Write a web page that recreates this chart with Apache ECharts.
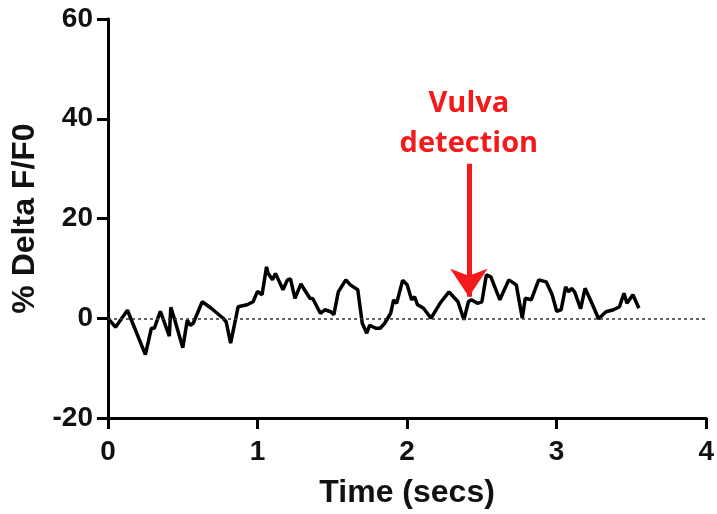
<!DOCTYPE html>
<html>
<head>
<meta charset="utf-8">
<script src="https://cdn.jsdelivr.net/npm/echarts@6/dist/echarts.min.js"></script>
<style>html,body{margin:0;padding:0;background:#fff;}#c{width:717px;height:514px;}</style>
</head>
<body>
<div id="c"></div>
<script>
var timeSecs = [0,0.05,0.13,0.25,0.29,0.31,0.35,0.41,0.42,0.45,0.50,0.53,0.55,0.57,0.63,0.69,0.77,0.79,0.82,0.87,0.93,0.97,1.0,1.03,1.06,1.07,1.1,1.12,1.17,1.2,1.22,1.25,1.29,1.32,1.35,1.37,1.42,1.45,1.49,1.51,1.54,1.59,1.62,1.67,1.7,1.73,1.75,1.79,1.82,1.85,1.89,1.91,1.93,1.97,2.0,2.03,2.05,2.07,2.11,2.16,2.22,2.28,2.34,2.38,2.41,2.43,2.47,2.5,2.53,2.56,2.62,2.68,2.73,2.77,2.79,2.83,2.88,2.93,2.97,3.0,3.03,3.06,3.08,3.1,3.12,3.16,3.19,3.24,3.28,3.33,3.38,3.42,3.45,3.47,3.51,3.55];
var deltaF = [0,-1.8,1.6,-7.3,-2,-2,1.4,-3.6,2.2,-0.7,-5.9,-0.4,-1.4,-1,3.3,2,0,-0.7,-5,2.3,2.7,3.3,5.4,4.7,10.3,9,7.7,9,5.7,7.7,7.9,4,6.9,5.4,4,3.9,1,1.7,1.3,0.7,5.3,7.7,6.7,5.7,-1,-3,-1.4,-2,-2,-1,1,3.7,3,7.6,6.7,3.7,4.3,2.7,2,0,3,5.3,3.3,-0.3,3.3,3.7,3,3.3,8.7,8.3,3.7,7.7,6.7,0,4,3.7,7.7,7.3,4.7,1.4,1.7,6.3,5.3,6,5.3,1.9,6,2.7,-0.1,1.3,1.7,2.3,5,3,4.7,2];
var xTicks = [0,1,2,3,4];
var yTicks = [-20,0,20,40,60];
var annotationText = "Vulva\ndetection";
var annotationPos = [2.413, 39];
var arrowStart = [2.413, 31];
var arrowEnd = [2.413, 4.3];

var pts = timeSecs.map(function(t,i){return [t, deltaF[i]];});
var chart = echarts.init(document.getElementById('c'), null, {renderer:'canvas'});
var font = 'Liberation Sans, Arial, sans-serif';
chart.setOption({
  animation:false,
  grid:{left:108,right:9,top:19,bottom:94,containLabel:false},
  xAxis:{type:'value',min:xTicks[0],max:xTicks[xTicks.length-1],interval:1,
    name:'Time (secs)',nameLocation:'middle',nameGap:59,
    nameTextStyle:{fontFamily:font,fontWeight:'bold',fontSize:32,color:'#111'},
    axisLine:{onZero:false,lineStyle:{color:'#000',width:3}},
    axisTick:{show:true,length:11,lineStyle:{color:'#000',width:3}},
    axisLabel:{fontFamily:font,fontWeight:'bold',fontSize:28,color:'#111',margin:20},
    splitLine:{show:false}},
  yAxis:{type:'value',min:yTicks[0],max:yTicks[yTicks.length-1],interval:20,
    name:'% Delta F/F0',nameLocation:'middle',nameGap:65,nameRotate:90,
    nameTextStyle:{fontFamily:font,fontWeight:'bold',fontSize:32,color:'#111'},
    axisLine:{onZero:false,lineStyle:{color:'#000',width:3}},
    axisTick:{show:true,length:11,lineStyle:{color:'#000',width:3}},
    axisLabel:{fontFamily:font,fontWeight:'bold',fontSize:28,color:'#111',margin:15},
    splitLine:{show:false}},
  series:[{
    type:'line',data:pts,showSymbol:false,symbol:'none',
    lineStyle:{color:'#000',width:3.5},
    markLine:{silent:true,symbol:'none',animation:false,label:{show:false},
      data:[
        {yAxis:0,lineStyle:{type:[3,3],color:'#333',width:1.5},symbol:'none'},
        [{coord:arrowStart,symbol:'none',lineStyle:{color:'#f21a1a',width:5,type:'solid'}},
         {coord:arrowEnd,symbol:'arrow',symbolSize:[28,28]}]
      ]},
    markPoint:{silent:true,symbol:'circle',symbolSize:1,itemStyle:{color:'rgba(0,0,0,0)'},
      data:[{coord:annotationPos}],
      label:{show:true,position:'inside',formatter:annotationText,color:'#f21a1a',
        fontFamily:'Open Sans, sans-serif',fontWeight:'bold',fontSize:29,lineHeight:40,align:'center'}}
  }]
});
</script>
</body>
</html>
